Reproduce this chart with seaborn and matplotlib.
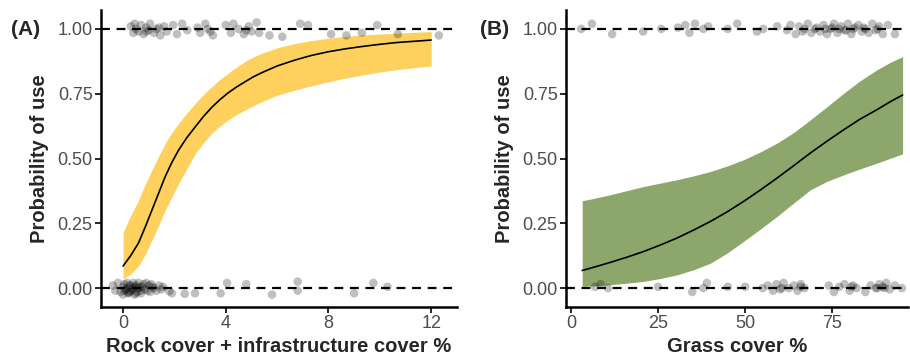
import numpy as np
import pandas as pd
import seaborn as sns
import matplotlib.pyplot as plt

# Panel A: rock + infrastructure cover, fitted curve and 95% band
rock_x = [0.0, 0.3, 0.6, 0.86, 1.12, 1.38, 1.64, 1.9, 2.16, 2.48, 2.81, 3.13, 3.45, 3.77, 4.10,
          4.42, 4.75, 5.07, 5.40, 6.0, 6.70, 7.35, 8.0, 8.65, 9.3, 9.95, 10.6, 11.3, 12.0]
rock_fit = [0.085, 0.126, 0.174, 0.235, 0.30, 0.365, 0.43, 0.485, 0.532, 0.58, 0.622, 0.662, 0.697, 0.727, 0.754,
            0.776, 0.796, 0.815, 0.831, 0.857, 0.88, 0.898, 0.912, 0.923, 0.932, 0.94, 0.947, 0.952, 0.957]
rock_hi = [0.216, 0.28, 0.339, 0.40, 0.455, 0.508, 0.558, 0.60, 0.635, 0.675, 0.713, 0.747, 0.777, 0.805, 0.829,
           0.853, 0.874, 0.892, 0.906, 0.927, 0.944, 0.955, 0.964, 0.971, 0.977, 0.98, 0.983, 0.987, 0.99]
rock_lo = [0.036, 0.055, 0.085, 0.13, 0.184, 0.24, 0.30, 0.352, 0.403, 0.46, 0.519, 0.56, 0.597, 0.625, 0.649,
           0.67, 0.687, 0.704, 0.719, 0.744, 0.764, 0.781, 0.796, 0.81, 0.822, 0.833, 0.842, 0.85, 0.857]

# Panel B: grass cover
grass_x = [3.2, 7.2, 11.2, 16.0, 20.8, 25.6, 30.4, 35.2, 40.0, 44.8, 49.5, 54.3, 59.1, 63.9,
           68.7, 73.5, 78.3, 83.0, 87.8, 91.5, 95.2]
grass_fit = [0.068, 0.083, 0.099, 0.119, 0.141, 0.166, 0.193, 0.224, 0.257, 0.294, 0.334, 0.378, 0.424, 0.472,
             0.521, 0.567, 0.611, 0.652, 0.688, 0.718, 0.745]
grass_hi = [0.337, 0.348, 0.36, 0.376, 0.392, 0.405, 0.418, 0.433, 0.45, 0.471, 0.495, 0.525, 0.559, 0.60,
            0.649, 0.70, 0.752, 0.80, 0.842, 0.87, 0.893]
grass_lo = [0.006, 0.009, 0.013, 0.019, 0.026, 0.037, 0.051, 0.071, 0.096, 0.135, 0.18, 0.227, 0.276, 0.328,
            0.379, 0.412, 0.437, 0.46, 0.482, 0.50, 0.518]

# jittered observations (used = 1, available = 0)
rock_used_x = [0.3, 0.4, 0.45, 0.6, 0.7, 0.8, 0.9, 1.0, 1.05, 1.2, 1.3, 1.45, 1.6, 1.7, 1.95, 2.1,
               2.3, 2.5, 2.9, 3.0, 3.2, 3.4, 3.5, 4.0, 4.2, 4.3, 4.5, 4.7, 4.9, 5.0, 5.2, 5.3,
               5.7, 6.2, 6.9, 7.2, 8.1, 8.7, 9.3, 9.9, 10.7, 12.3, 0.5, 0.9, 1.4, 3.3, 4.8]
rock_used_y = [1.01, 0.985, 1.02, 0.99, 1.015, 0.98, 1.005, 0.995, 1.02, 0.985, 1.0, 0.975, 1.01, 0.99, 1.015, 0.98,
               1.02, 0.995, 1.005, 0.985, 1.02, 0.99, 0.975, 1.015, 0.985, 1.02, 1.0, 0.98, 1.01, 0.99, 1.025, 0.985,
               0.975, 0.97, 1.02, 1.015, 0.98, 0.975, 0.985, 1.015, 0.98, 0.975, 1.0, 0.99, 1.005, 1.0, 0.995]
rock_avail_x = [-0.4, -0.3, -0.2, -0.1, 0.0, 0.0, 0.05, 0.1, 0.15, 0.2, 0.25, 0.3, 0.35, 0.4, 0.45, 0.5,
                0.55, 0.6, 0.65, 0.7, 0.8, 0.85, 0.9, 1.0, 1.05, 1.1, 1.2, 1.3, 1.4, 1.5, 1.56, 1.9,
                2.4, 2.8, 3.8, 4.05, 4.8, 5.8, 6.8, 6.8, 9.0, 9.75, 10.3,
                0.05, 0.15, 0.2, 0.3, 0.4, 0.5, 0.6, 0.75, 0.95, 1.15, 0.25, 0.45, 0.7, 1.8]
rock_avail_y = [0.01, -0.01, 0.02, -0.015, 0.005, -0.025, 0.015, -0.005, 0.02, -0.02, 0.01, -0.01, 0.0, 0.02, -0.025, 0.01,
                -0.015, 0.02, 0.005, -0.02, 0.015, -0.005, 0.02, 0.01, -0.015, 0.015, 0.0, -0.01, 0.01, -0.005, 0.005, -0.02,
                -0.022, -0.02, -0.02, 0.02, 0.015, -0.025, 0.025, -0.01, -0.02, 0.02, 0.005,
                -0.01, 0.0, -0.018, 0.01, -0.005, -0.02, 0.0, 0.005, -0.01, 0.005, -0.015, 0.005, -0.01, -0.012]

grass_used_x = [2.9, 6.0, 11.8, 20.7, 25.9, 30.7, 32.8, 34.0, 35.6, 38.0, 39.4, 45.0, 47.7, 53.4, 55.2, 59.2,
                62.0, 63.0, 64.5, 65.5, 66.5, 68.0, 69.0, 70.5, 71.5, 72.5, 73.5, 74.5, 75.5, 76.5, 77.5, 78.5,
                79.5, 80.5, 81.5, 82.5, 83.5, 84.5, 85.5, 86.5, 87.5, 88.5, 89.5, 91.0, 93.0,
                67.0, 70.0, 73.0, 75.0, 77.0, 79.0, 81.0, 84.0, 88.0]
grass_used_y = [1.0, 1.02, 0.98, 0.99, 1.0, 1.005, 1.015, 0.985, 1.02, 1.0, 1.01, 1.0, 1.02, 0.99, 1.0, 1.01,
                0.995, 1.015, 0.98, 1.01, 0.99, 1.02, 0.985, 1.005, 0.99, 1.015, 0.98, 1.0, 1.02, 0.985, 1.01, 0.995,
                1.02, 0.98, 1.005, 1.015, 0.99, 1.0, 0.985, 1.02, 0.995, 1.01, 0.98, 1.015, 0.98,
                1.0, 1.0, 1.0, 1.005, 1.0, 0.995, 1.0, 1.005, 1.0]
grass_avail_x = [6.9, 8.5, 10.6, 25.0, 34.8, 38.0, 39.0, 45.0, 50.0, 55.0, 56.5, 58.0, 59.0, 60.0, 61.0, 62.5,
                 64.0, 65.0, 66.0, 67.0, 74.0, 75.5, 77.0, 78.5, 80.0, 81.0, 82.0, 84.5, 86.0, 87.5, 88.5, 89.5,
                 90.5, 91.5, 93.0, 95.0, 60.5, 66.0, 80.5, 88.0, 90.0]
grass_avail_y = [0.005, 0.015, 0.0, 0.005, -0.015, 0.0, 0.02, 0.005, 0.005, 0.0, 0.01, -0.01, 0.015, -0.005, 0.02, 0.0,
                 0.01, -0.01, 0.015, 0.0, 0.01, -0.015, 0.005, 0.015, -0.01, 0.01, 0.0, -0.015, 0.01, 0.0, 0.015, 0.005,
                 0.02, -0.005, 0.01, 0.0, 0.0, 0.005, 0.005, 0.0, 0.0]

sns.set_style("ticks")
plt.rcParams['font.family'] = ['Liberation Sans', 'DejaVu Sans']

fig = plt.figure(figsize=(9.1, 3.57), dpi=100)
axA = fig.add_axes([0.111, 0.14, 0.391, 0.832])
axB = fig.add_axes([0.622, 0.14, 0.376, 0.832])

panels = [
    (axA, rock_x, rock_fit, rock_lo, rock_hi, rock_used_x, rock_used_y, rock_avail_x, rock_avail_y,
     "#FED15E", "Rock cover + infrastructure cover %", (-0.86, 13.0), [0, 4, 8, 12], "(A)", 0.012),
    (axB, grass_x, grass_fit, grass_lo, grass_hi, grass_used_x, grass_used_y, grass_avail_x, grass_avail_y,
     "#8DA66B", "Grass cover %", (-1.44, 96.8), [0, 25, 50, 75], "(B)", 0.528),
]

for ax, x, fit, lo, hi, ux, uy, ax_x, ax_y, col, xlab, xlim, xt, tag, tx in panels:
    ax.axhline(1, color="black", lw=1.6, ls=(0, (4, 3)), zorder=1)
    ax.axhline(0, color="black", lw=1.6, ls=(0, (4, 3)), zorder=1)
    ax.fill_between(x, lo, hi, color=col, lw=0, zorder=2)
    pts = pd.DataFrame({"x": ux + ax_x, "y": uy + ax_y})
    sns.scatterplot(data=pts, x="x", y="y", ax=ax, color="black", alpha=0.25, s=38,
                    edgecolor="none", zorder=3)
    sns.lineplot(x=x, y=fit, ax=ax, color="black", lw=1.2, zorder=4)
    ax.set_xlim(*xlim)
    ax.set_ylim(-0.073, 1.073)
    ax.set_xticks(xt)
    ax.set_yticks([0, 0.25, 0.5, 0.75, 1.0])
    ax.set_yticklabels(["0.00", "0.25", "0.50", "0.75", "1.00"])
    ax.set_xlabel(xlab, fontsize=14.5, fontweight="bold", labelpad=3)
    ax.set_ylabel("Probability of use", fontsize=14.5, fontweight="bold", labelpad=6)
    ax.tick_params(labelsize=13, colors="#4D4D4D", length=4, width=1.2, pad=2)
    ax.tick_params(axis="both", color="black")
    for s in ["top", "right"]:
        ax.spines[s].set_visible(False)
    for s in ["left", "bottom"]:
        ax.spines[s].set_linewidth(1.8)
        ax.spines[s].set_color("black")
    fig.text(tx, 0.918, tag, fontsize=15, fontweight="bold", va="center", ha="left")

fig.savefig("out.png", dpi=100)
